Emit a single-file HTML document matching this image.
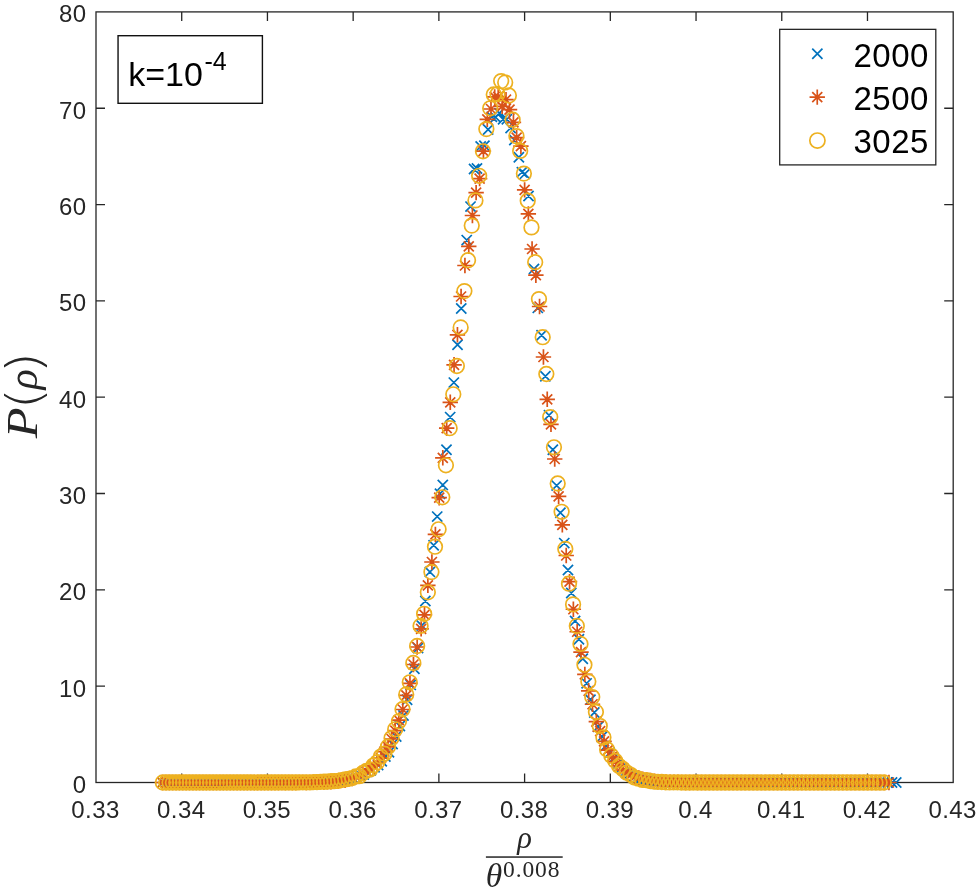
<!DOCTYPE html>
<html lang="en"><head><meta charset="utf-8"><title>P(rho) distribution</title>
<style>html,body{margin:0;padding:0;background:#fff}body{width:980px;height:893px;overflow:hidden}svg{display:block}</style></head>
<body>
<svg width="980" height="893" viewBox="0 0 980 893">
<rect width="980" height="893" fill="#fff"/>
<g stroke="#262626" stroke-width="1.3" fill="none">
<rect x="96" y="11.9" width="857.2" height="770.6"/>
<path d="M181.72 782.5v-9M181.72 11.9v9M267.44 782.5v-9M267.44 11.9v9M353.16 782.5v-9M353.16 11.9v9M438.88 782.5v-9M438.88 11.9v9M524.6 782.5v-9M524.6 11.9v9M610.32 782.5v-9M610.32 11.9v9M696.04 782.5v-9M696.04 11.9v9M781.76 782.5v-9M781.76 11.9v9M867.48 782.5v-9M867.48 11.9v9M96 686.17h9M953.2 686.17h-9M96 589.85h9M953.2 589.85h-9M96 493.52h9M953.2 493.52h-9M96 397.2h9M953.2 397.2h-9M96 300.88h9M953.2 300.88h-9M96 204.55h9M953.2 204.55h-9M96 108.23h9M953.2 108.23h-9"/>
</g>
<g font-family="'Liberation Sans', Arial, Helvetica, sans-serif" font-size="24" letter-spacing="0.4" fill="#262626">
<text x="95.5" y="818.2" text-anchor="middle">0.33</text>
<text x="181.22" y="818.2" text-anchor="middle">0.34</text>
<text x="266.94" y="818.2" text-anchor="middle">0.35</text>
<text x="352.66" y="818.2" text-anchor="middle">0.36</text>
<text x="438.38" y="818.2" text-anchor="middle">0.37</text>
<text x="524.1" y="818.2" text-anchor="middle">0.38</text>
<text x="609.82" y="818.2" text-anchor="middle">0.39</text>
<text x="695.54" y="818.2" text-anchor="middle">0.4</text>
<text x="781.26" y="818.2" text-anchor="middle">0.41</text>
<text x="866.98" y="818.2" text-anchor="middle">0.42</text>
<text x="952.7" y="818.2" text-anchor="middle">0.43</text>
<text x="86.6" y="792.9" text-anchor="end">0</text>
<text x="86.6" y="696.57" text-anchor="end">10</text>
<text x="86.6" y="600.25" text-anchor="end">20</text>
<text x="86.6" y="503.92" text-anchor="end">30</text>
<text x="86.6" y="407.6" text-anchor="end">40</text>
<text x="86.6" y="311.27" text-anchor="end">50</text>
<text x="86.6" y="214.95" text-anchor="end">60</text>
<text x="86.6" y="118.63" text-anchor="end">70</text>
<text x="86.6" y="22.3" text-anchor="end">80</text>
</g>
<g fill="none" stroke-width="1.7">
<path stroke="#0072BD" d="M157.48 777.4l10.2 10.2m0 -10.2l-10.2 10.2M160.83 777.4l10.2 10.2m0 -10.2l-10.2 10.2M164.19 777.4l10.2 10.2m0 -10.2l-10.2 10.2M167.56 777.4l10.2 10.2m0 -10.2l-10.2 10.2M170.92 777.4l10.2 10.2m0 -10.2l-10.2 10.2M174.29 777.4l10.2 10.2m0 -10.2l-10.2 10.2M177.67 777.4l10.2 10.2m0 -10.2l-10.2 10.2M181.05 777.4l10.2 10.2m0 -10.2l-10.2 10.2M184.43 777.4l10.2 10.2m0 -10.2l-10.2 10.2M187.82 777.4l10.2 10.2m0 -10.2l-10.2 10.2M191.21 777.4l10.2 10.2m0 -10.2l-10.2 10.2M194.6 777.4l10.2 10.2m0 -10.2l-10.2 10.2M198 777.4l10.2 10.2m0 -10.2l-10.2 10.2M201.4 777.4l10.2 10.2m0 -10.2l-10.2 10.2M204.81 777.4l10.2 10.2m0 -10.2l-10.2 10.2M208.22 777.4l10.2 10.2m0 -10.2l-10.2 10.2M211.63 777.4l10.2 10.2m0 -10.2l-10.2 10.2M215.05 777.4l10.2 10.2m0 -10.2l-10.2 10.2M218.47 777.4l10.2 10.2m0 -10.2l-10.2 10.2M221.9 777.4l10.2 10.2m0 -10.2l-10.2 10.2M225.33 777.4l10.2 10.2m0 -10.2l-10.2 10.2M228.76 777.4l10.2 10.2m0 -10.2l-10.2 10.2M232.2 777.4l10.2 10.2m0 -10.2l-10.2 10.2M235.65 777.4l10.2 10.2m0 -10.2l-10.2 10.2M239.09 777.4l10.2 10.2m0 -10.2l-10.2 10.2M242.54 777.4l10.2 10.2m0 -10.2l-10.2 10.2M245.99 777.4l10.2 10.2m0 -10.2l-10.2 10.2M249.45 777.4l10.2 10.2m0 -10.2l-10.2 10.2M252.91 777.4l10.2 10.2m0 -10.2l-10.2 10.2M256.38 777.39l10.2 10.2m0 -10.2l-10.2 10.2M259.85 777.37l10.2 10.2m0 -10.2l-10.2 10.2M263.33 777.39l10.2 10.2m0 -10.2l-10.2 10.2M266.8 777.4l10.2 10.2m0 -10.2l-10.2 10.2M270.29 777.37l10.2 10.2m0 -10.2l-10.2 10.2M273.77 777.35l10.2 10.2m0 -10.2l-10.2 10.2M277.26 777.37l10.2 10.2m0 -10.2l-10.2 10.2M280.76 777.33l10.2 10.2m0 -10.2l-10.2 10.2M284.25 777.29l10.2 10.2m0 -10.2l-10.2 10.2M287.76 777.32l10.2 10.2m0 -10.2l-10.2 10.2M291.26 777.33l10.2 10.2m0 -10.2l-10.2 10.2M294.77 777.23l10.2 10.2m0 -10.2l-10.2 10.2M298.29 777.19l10.2 10.2m0 -10.2l-10.2 10.2M301.81 777.07l10.2 10.2m0 -10.2l-10.2 10.2M305.33 777.2l10.2 10.2m0 -10.2l-10.2 10.2M308.86 777.07l10.2 10.2m0 -10.2l-10.2 10.2M312.39 776.98l10.2 10.2m0 -10.2l-10.2 10.2M315.92 776.97l10.2 10.2m0 -10.2l-10.2 10.2M319.46 776.56l10.2 10.2m0 -10.2l-10.2 10.2M323 776.27l10.2 10.2m0 -10.2l-10.2 10.2M326.55 776.21l10.2 10.2m0 -10.2l-10.2 10.2M330.1 775.46l10.2 10.2m0 -10.2l-10.2 10.2M333.66 775.13l10.2 10.2m0 -10.2l-10.2 10.2M337.22 774.64l10.2 10.2m0 -10.2l-10.2 10.2M340.78 774.05l10.2 10.2m0 -10.2l-10.2 10.2M344.35 773.11l10.2 10.2m0 -10.2l-10.2 10.2M347.92 772.95l10.2 10.2m0 -10.2l-10.2 10.2M351.5 771.18l10.2 10.2m0 -10.2l-10.2 10.2M355.08 769.9l10.2 10.2m0 -10.2l-10.2 10.2M358.66 769.49l10.2 10.2m0 -10.2l-10.2 10.2M362.25 766.79l10.2 10.2m0 -10.2l-10.2 10.2M365.84 765.09l10.2 10.2m0 -10.2l-10.2 10.2M369.44 762.09l10.2 10.2m0 -10.2l-10.2 10.2M373.04 759.96l10.2 10.2m0 -10.2l-10.2 10.2M376.65 756.15l10.2 10.2m0 -10.2l-10.2 10.2M380.26 751.49l10.2 10.2m0 -10.2l-10.2 10.2M383.87 747.08l10.2 10.2m0 -10.2l-10.2 10.2M387.49 739.01l10.2 10.2m0 -10.2l-10.2 10.2M391.11 731.47l10.2 10.2m0 -10.2l-10.2 10.2M394.74 720.88l10.2 10.2m0 -10.2l-10.2 10.2M398.37 710.42l10.2 10.2m0 -10.2l-10.2 10.2M402 694.67l10.2 10.2m0 -10.2l-10.2 10.2M405.64 679.79l10.2 10.2m0 -10.2l-10.2 10.2M409.28 663.61l10.2 10.2m0 -10.2l-10.2 10.2M412.93 642.87l10.2 10.2m0 -10.2l-10.2 10.2M416.58 620.34l10.2 10.2m0 -10.2l-10.2 10.2M420.24 595.91l10.2 10.2m0 -10.2l-10.2 10.2M424.8 566.8l10.2 10.2m0 -10.2l-10.2 10.2M428.53 540.2l10.2 10.2m0 -10.2l-10.2 10.2M432.11 511.5l10.2 10.2m0 -10.2l-10.2 10.2M434.9 488.64l10.2 10.2m0 -10.2l-10.2 10.2M437.69 479.8l10.2 10.2m0 -10.2l-10.2 10.2M441.38 444.7l10.2 10.2m0 -10.2l-10.2 10.2M445.07 412l10.2 10.2m0 -10.2l-10.2 10.2M448.75 377.5l10.2 10.2m0 -10.2l-10.2 10.2M452.41 339.7l10.2 10.2m0 -10.2l-10.2 10.2M456.16 303.4l10.2 10.2m0 -10.2l-10.2 10.2M461.61 235l10.2 10.2m0 -10.2l-10.2 10.2M465.42 201.5l10.2 10.2m0 -10.2l-10.2 10.2M468.97 163.9l10.2 10.2m0 -10.2l-10.2 10.2M471.86 163.41l10.2 10.2m0 -10.2l-10.2 10.2M475.58 141.3l10.2 10.2m0 -10.2l-10.2 10.2M479.31 140.55l10.2 10.2m0 -10.2l-10.2 10.2M483.03 124.39l10.2 10.2m0 -10.2l-10.2 10.2M486.77 111.75l10.2 10.2m0 -10.2l-10.2 10.2M490.5 112.27l10.2 10.2m0 -10.2l-10.2 10.2M494.25 108l10.2 10.2m0 -10.2l-10.2 10.2M497.99 114.11l10.2 10.2m0 -10.2l-10.2 10.2M501.74 114.19l10.2 10.2m0 -10.2l-10.2 10.2M505.5 122.95l10.2 10.2m0 -10.2l-10.2 10.2M509.25 134.83l10.2 10.2m0 -10.2l-10.2 10.2M513.76 152.1l10.2 10.2m0 -10.2l-10.2 10.2M516.79 167.07l10.2 10.2m0 -10.2l-10.2 10.2M519.68 168.8l10.2 10.2m0 -10.2l-10.2 10.2M523.42 190.9l10.2 10.2m0 -10.2l-10.2 10.2M528.86 263.8l10.2 10.2m0 -10.2l-10.2 10.2M532.7 302.8l10.2 10.2m0 -10.2l-10.2 10.2M536.44 330.1l10.2 10.2m0 -10.2l-10.2 10.2M540.29 371.1l10.2 10.2m0 -10.2l-10.2 10.2M543.89 410.2l10.2 10.2m0 -10.2l-10.2 10.2M547.74 444.7l10.2 10.2m0 -10.2l-10.2 10.2M551.54 480.5l10.2 10.2m0 -10.2l-10.2 10.2M555.3 507.7l10.2 10.2m0 -10.2l-10.2 10.2M559.16 538l10.2 10.2m0 -10.2l-10.2 10.2M562.87 564.9l10.2 10.2m0 -10.2l-10.2 10.2M566.16 587.84l10.2 10.2m0 -10.2l-10.2 10.2M569.99 615.82l10.2 10.2m0 -10.2l-10.2 10.2M573.82 634.22l10.2 10.2m0 -10.2l-10.2 10.2M577.66 653.63l10.2 10.2m0 -10.2l-10.2 10.2M581.5 678.23l10.2 10.2m0 -10.2l-10.2 10.2M585.35 694.55l10.2 10.2m0 -10.2l-10.2 10.2M589.2 707.37l10.2 10.2m0 -10.2l-10.2 10.2M593.06 721.61l10.2 10.2m0 -10.2l-10.2 10.2M596.92 731.57l10.2 10.2m0 -10.2l-10.2 10.2M600.78 740.59l10.2 10.2m0 -10.2l-10.2 10.2M604.65 747.58l10.2 10.2m0 -10.2l-10.2 10.2M608.53 753.11l10.2 10.2m0 -10.2l-10.2 10.2M612.4 758.98l10.2 10.2m0 -10.2l-10.2 10.2M616.29 762.55l10.2 10.2m0 -10.2l-10.2 10.2M620.17 766.58l10.2 10.2m0 -10.2l-10.2 10.2M624.07 768.82l10.2 10.2m0 -10.2l-10.2 10.2M627.96 771.86l10.2 10.2m0 -10.2l-10.2 10.2M631.86 773.1l10.2 10.2m0 -10.2l-10.2 10.2M635.77 773.6l10.2 10.2m0 -10.2l-10.2 10.2M639.68 774.92l10.2 10.2m0 -10.2l-10.2 10.2M643.59 775.36l10.2 10.2m0 -10.2l-10.2 10.2M647.51 775.91l10.2 10.2m0 -10.2l-10.2 10.2M651.43 776.2l10.2 10.2m0 -10.2l-10.2 10.2M655.36 776.58l10.2 10.2m0 -10.2l-10.2 10.2M659.29 776.79l10.2 10.2m0 -10.2l-10.2 10.2M663.23 777.06l10.2 10.2m0 -10.2l-10.2 10.2M667.17 777.21l10.2 10.2m0 -10.2l-10.2 10.2M671.12 777.28l10.2 10.2m0 -10.2l-10.2 10.2M675.07 777.31l10.2 10.2m0 -10.2l-10.2 10.2M679.02 777.37l10.2 10.2m0 -10.2l-10.2 10.2M682.98 777.37l10.2 10.2m0 -10.2l-10.2 10.2M686.95 777.37l10.2 10.2m0 -10.2l-10.2 10.2M690.92 777.37l10.2 10.2m0 -10.2l-10.2 10.2M694.89 777.39l10.2 10.2m0 -10.2l-10.2 10.2M698.87 777.4l10.2 10.2m0 -10.2l-10.2 10.2M702.85 777.39l10.2 10.2m0 -10.2l-10.2 10.2M706.84 777.39l10.2 10.2m0 -10.2l-10.2 10.2M710.83 777.39l10.2 10.2m0 -10.2l-10.2 10.2M714.83 777.4l10.2 10.2m0 -10.2l-10.2 10.2M718.83 777.4l10.2 10.2m0 -10.2l-10.2 10.2M722.84 777.4l10.2 10.2m0 -10.2l-10.2 10.2M726.85 777.39l10.2 10.2m0 -10.2l-10.2 10.2M730.86 777.4l10.2 10.2m0 -10.2l-10.2 10.2M734.88 777.4l10.2 10.2m0 -10.2l-10.2 10.2M738.91 777.4l10.2 10.2m0 -10.2l-10.2 10.2M742.93 777.4l10.2 10.2m0 -10.2l-10.2 10.2M746.97 777.4l10.2 10.2m0 -10.2l-10.2 10.2M751.01 777.4l10.2 10.2m0 -10.2l-10.2 10.2M755.05 777.4l10.2 10.2m0 -10.2l-10.2 10.2M759.1 777.4l10.2 10.2m0 -10.2l-10.2 10.2M763.15 777.4l10.2 10.2m0 -10.2l-10.2 10.2M767.21 777.4l10.2 10.2m0 -10.2l-10.2 10.2M771.27 777.4l10.2 10.2m0 -10.2l-10.2 10.2M775.34 777.4l10.2 10.2m0 -10.2l-10.2 10.2M779.41 777.4l10.2 10.2m0 -10.2l-10.2 10.2M783.48 777.4l10.2 10.2m0 -10.2l-10.2 10.2M787.57 777.4l10.2 10.2m0 -10.2l-10.2 10.2M791.65 777.4l10.2 10.2m0 -10.2l-10.2 10.2M795.74 777.4l10.2 10.2m0 -10.2l-10.2 10.2M799.84 777.4l10.2 10.2m0 -10.2l-10.2 10.2M803.94 777.4l10.2 10.2m0 -10.2l-10.2 10.2M808.04 777.4l10.2 10.2m0 -10.2l-10.2 10.2M812.15 777.4l10.2 10.2m0 -10.2l-10.2 10.2M816.26 777.4l10.2 10.2m0 -10.2l-10.2 10.2M820.38 777.4l10.2 10.2m0 -10.2l-10.2 10.2M824.51 777.4l10.2 10.2m0 -10.2l-10.2 10.2M828.64 777.4l10.2 10.2m0 -10.2l-10.2 10.2M832.77 777.4l10.2 10.2m0 -10.2l-10.2 10.2M836.91 777.4l10.2 10.2m0 -10.2l-10.2 10.2M841.05 777.4l10.2 10.2m0 -10.2l-10.2 10.2M845.2 777.4l10.2 10.2m0 -10.2l-10.2 10.2M849.35 777.4l10.2 10.2m0 -10.2l-10.2 10.2M853.51 777.4l10.2 10.2m0 -10.2l-10.2 10.2M857.67 777.4l10.2 10.2m0 -10.2l-10.2 10.2M861.84 777.4l10.2 10.2m0 -10.2l-10.2 10.2M866.01 777.4l10.2 10.2m0 -10.2l-10.2 10.2M870.18 777.4l10.2 10.2m0 -10.2l-10.2 10.2M874.37 777.4l10.2 10.2m0 -10.2l-10.2 10.2M878.55 777.4l10.2 10.2m0 -10.2l-10.2 10.2M882.74 777.4l10.2 10.2m0 -10.2l-10.2 10.2M886.94 777.4l10.2 10.2m0 -10.2l-10.2 10.2M891.14 777.4l10.2 10.2m0 -10.2l-10.2 10.2"/>
<path stroke="#D95319" d="M154.78 782.5h15.4M162.48 774.8v15.4M157.48 777.5l10 10m0 -10l-10 10M158.12 782.5h15.4M165.82 774.8v15.4M160.82 777.5l10 10m0 -10l-10 10M161.47 782.5h15.4M169.17 774.8v15.4M164.17 777.5l10 10m0 -10l-10 10M164.82 782.5h15.4M172.52 774.8v15.4M167.52 777.5l10 10m0 -10l-10 10M168.17 782.5h15.4M175.87 774.8v15.4M170.87 777.5l10 10m0 -10l-10 10M171.53 782.5h15.4M179.23 774.8v15.4M174.23 777.5l10 10m0 -10l-10 10M174.89 782.5h15.4M182.59 774.8v15.4M177.59 777.5l10 10m0 -10l-10 10M178.26 782.5h15.4M185.96 774.8v15.4M180.96 777.5l10 10m0 -10l-10 10M181.63 782.5h15.4M189.33 774.8v15.4M184.33 777.5l10 10m0 -10l-10 10M185 782.5h15.4M192.7 774.8v15.4M187.7 777.5l10 10m0 -10l-10 10M188.38 782.5h15.4M196.08 774.8v15.4M191.08 777.5l10 10m0 -10l-10 10M191.76 782.5h15.4M199.46 774.8v15.4M194.46 777.5l10 10m0 -10l-10 10M195.15 782.5h15.4M202.85 774.8v15.4M197.85 777.5l10 10m0 -10l-10 10M198.54 782.5h15.4M206.24 774.8v15.4M201.24 777.5l10 10m0 -10l-10 10M201.93 782.5h15.4M209.63 774.8v15.4M204.63 777.5l10 10m0 -10l-10 10M205.33 782.5h15.4M213.03 774.8v15.4M208.03 777.5l10 10m0 -10l-10 10M208.73 782.5h15.4M216.43 774.8v15.4M211.43 777.5l10 10m0 -10l-10 10M212.14 782.5h15.4M219.84 774.8v15.4M214.84 777.5l10 10m0 -10l-10 10M215.54 782.5h15.4M223.24 774.8v15.4M218.24 777.5l10 10m0 -10l-10 10M218.96 782.5h15.4M226.66 774.8v15.4M221.66 777.5l10 10m0 -10l-10 10M222.37 782.5h15.4M230.07 774.8v15.4M225.07 777.5l10 10m0 -10l-10 10M225.8 782.5h15.4M233.5 774.8v15.4M228.5 777.5l10 10m0 -10l-10 10M229.22 782.5h15.4M236.92 774.8v15.4M231.92 777.5l10 10m0 -10l-10 10M232.65 782.5h15.4M240.35 774.8v15.4M235.35 777.5l10 10m0 -10l-10 10M236.08 782.5h15.4M243.78 774.8v15.4M238.78 777.5l10 10m0 -10l-10 10M239.52 782.5h15.4M247.22 774.8v15.4M242.22 777.5l10 10m0 -10l-10 10M242.96 782.5h15.4M250.66 774.8v15.4M245.66 777.5l10 10m0 -10l-10 10M246.41 782.5h15.4M254.11 774.8v15.4M249.11 777.5l10 10m0 -10l-10 10M249.85 782.5h15.4M257.55 774.8v15.4M252.55 777.5l10 10m0 -10l-10 10M253.31 782.5h15.4M261.01 774.8v15.4M256.01 777.5l10 10m0 -10l-10 10M256.76 782.5h15.4M264.46 774.8v15.4M259.46 777.5l10 10m0 -10l-10 10M260.22 782.5h15.4M267.92 774.8v15.4M262.92 777.5l10 10m0 -10l-10 10M263.69 782.5h15.4M271.39 774.8v15.4M266.39 777.5l10 10m0 -10l-10 10M267.16 782.5h15.4M274.86 774.8v15.4M269.86 777.5l10 10m0 -10l-10 10M270.63 782.5h15.4M278.33 774.8v15.4M273.33 777.5l10 10m0 -10l-10 10M274.11 782.5h15.4M281.81 774.8v15.4M276.81 777.5l10 10m0 -10l-10 10M277.59 782.5h15.4M285.29 774.8v15.4M280.29 777.5l10 10m0 -10l-10 10M281.07 782.5h15.4M288.77 774.8v15.4M283.77 777.5l10 10m0 -10l-10 10M284.56 782.46h15.4M292.26 774.76v15.4M287.26 777.46l10 10m0 -10l-10 10M288.06 782.49h15.4M295.76 774.79v15.4M290.76 777.49l10 10m0 -10l-10 10M291.55 782.4h15.4M299.25 774.7v15.4M294.25 777.4l10 10m0 -10l-10 10M295.05 782.39h15.4M302.75 774.69v15.4M297.75 777.39l10 10m0 -10l-10 10M298.56 782.49h15.4M306.26 774.79v15.4M301.26 777.49l10 10m0 -10l-10 10M302.07 782.34h15.4M309.77 774.64v15.4M304.77 777.34l10 10m0 -10l-10 10M305.58 782.38h15.4M313.28 774.68v15.4M308.28 777.38l10 10m0 -10l-10 10M309.1 782.23h15.4M316.8 774.53v15.4M311.8 777.23l10 10m0 -10l-10 10M312.62 782.13h15.4M320.32 774.43v15.4M315.32 777.13l10 10m0 -10l-10 10M316.14 782.23h15.4M323.84 774.53v15.4M318.84 777.23l10 10m0 -10l-10 10M319.67 781.88h15.4M327.37 774.18v15.4M322.37 776.88l10 10m0 -10l-10 10M323.21 781.68h15.4M330.91 773.98v15.4M325.91 776.68l10 10m0 -10l-10 10M326.74 781.21h15.4M334.44 773.51v15.4M329.44 776.21l10 10m0 -10l-10 10M330.29 781.24h15.4M337.99 773.54v15.4M332.99 776.24l10 10m0 -10l-10 10M333.83 780.42h15.4M341.53 772.72v15.4M336.53 775.42l10 10m0 -10l-10 10M337.38 780.27h15.4M345.08 772.57v15.4M340.08 775.27l10 10m0 -10l-10 10M340.94 779.38h15.4M348.64 771.68v15.4M343.64 774.38l10 10m0 -10l-10 10M344.49 778.65h15.4M352.19 770.95v15.4M347.19 773.65l10 10m0 -10l-10 10M348.06 776.74h15.4M355.76 769.04v15.4M350.76 771.74l10 10m0 -10l-10 10M351.62 775.62h15.4M359.32 767.92v15.4M354.32 770.62l10 10m0 -10l-10 10M355.19 773.03h15.4M362.89 765.33v15.4M357.89 768.03l10 10m0 -10l-10 10M358.77 771.68h15.4M366.47 763.98v15.4M361.47 766.68l10 10m0 -10l-10 10M362.35 768.95h15.4M370.05 761.25v15.4M365.05 763.95l10 10m0 -10l-10 10M365.93 765.78h15.4M373.63 758.08v15.4M368.63 760.78l10 10m0 -10l-10 10M369.51 762.98h15.4M377.21 755.28v15.4M372.21 757.98l10 10m0 -10l-10 10M373.11 758.13h15.4M380.81 750.43v15.4M375.81 753.13l10 10m0 -10l-10 10M376.7 751.63h15.4M384.4 743.93v15.4M379.4 746.63l10 10m0 -10l-10 10M380.3 746.88h15.4M388 739.18v15.4M383 741.88l10 10m0 -10l-10 10M383.9 739h15.4M391.6 731.3v15.4M386.6 734l10 10m0 -10l-10 10M387.51 730.7h15.4M395.21 723v15.4M390.21 725.7l10 10m0 -10l-10 10M391.12 720.12h15.4M398.82 712.42v15.4M393.82 715.12l10 10m0 -10l-10 10M395.07 709.5h15.4M402.77 701.8v15.4M397.77 704.5l10 10m0 -10l-10 10M398.58 695.4h15.4M406.28 687.7v15.4M401.28 690.4l10 10m0 -10l-10 10M402.24 683.3h15.4M409.94 675.6v15.4M404.94 678.3l10 10m0 -10l-10 10M405.76 664.5h15.4M413.46 656.8v15.4M408.46 659.5l10 10m0 -10l-10 10M409.47 647h15.4M417.17 639.3v15.4M412.17 642l10 10m0 -10l-10 10M413.44 628.9h15.4M421.14 621.2v15.4M416.14 623.9l10 10m0 -10l-10 10M416.81 614.8h15.4M424.51 607.1v15.4M419.51 609.8l10 10m0 -10l-10 10M420.17 585.42h15.4M427.87 577.72v15.4M422.87 580.42l10 10m0 -10l-10 10M424.21 562h15.4M431.91 554.3v15.4M426.91 557l10 10m0 -10l-10 10M427.69 534.4h15.4M435.39 526.7v15.4M430.39 529.4l10 10m0 -10l-10 10M431.51 497.7h15.4M439.21 490v15.4M434.21 492.7l10 10m0 -10l-10 10M435.1 457.8h15.4M442.8 450.1v15.4M437.8 452.8l10 10m0 -10l-10 10M438.98 428.2h15.4M446.68 420.5v15.4M441.68 423.2l10 10m0 -10l-10 10M442.56 402.3h15.4M450.26 394.6v15.4M445.26 397.3l10 10m0 -10l-10 10M446.35 364.8h15.4M454.05 357.1v15.4M449.05 359.8l10 10m0 -10l-10 10M449.74 334.8h15.4M457.44 327.1v15.4M452.44 329.8l10 10m0 -10l-10 10M453.38 296.5h15.4M461.08 288.8v15.4M456.08 291.5l10 10m0 -10l-10 10M457.23 265.5h15.4M464.93 257.8v15.4M459.93 260.5l10 10m0 -10l-10 10M461.07 246.3h15.4M468.77 238.6v15.4M463.77 241.3l10 10m0 -10l-10 10M464.72 215.5h15.4M472.42 207.8v15.4M467.42 210.5l10 10m0 -10l-10 10M468.42 192.6h15.4M476.12 184.9v15.4M471.12 187.6l10 10m0 -10l-10 10M471.92 178.6h15.4M479.62 170.9v15.4M474.62 173.6l10 10m0 -10l-10 10M475.73 151.1h15.4M483.43 143.4v15.4M478.43 146.1l10 10m0 -10l-10 10M479.58 119.4h15.4M487.28 111.7v15.4M482.28 114.4l10 10m0 -10l-10 10M483.29 109h15.4M490.99 101.3v15.4M485.99 104l10 10m0 -10l-10 10M487 96.9h15.4M494.7 89.2v15.4M489.7 91.9l10 10m0 -10l-10 10M490.52 96.9h15.4M498.22 89.2v15.4M493.22 91.9l10 10m0 -10l-10 10M494.43 106.3h15.4M502.13 98.6v15.4M497.13 101.3l10 10m0 -10l-10 10M498.3 99.6h15.4M506 91.9v15.4M501 94.6l10 10m0 -10l-10 10M501.82 109.7h15.4M509.52 102v15.4M504.52 104.7l10 10m0 -10l-10 10M505.74 122.4h15.4M513.44 114.7v15.4M508.44 117.4l10 10m0 -10l-10 10M508.93 137.71h15.4M516.63 130.01v15.4M511.63 132.71l10 10m0 -10l-10 10M513.19 146.2h15.4M520.89 138.5v15.4M515.89 141.2l10 10m0 -10l-10 10M516.92 189.9h15.4M524.62 182.2v15.4M519.62 184.9l10 10m0 -10l-10 10M520.65 213.9h15.4M528.35 206.2v15.4M523.35 208.9l10 10m0 -10l-10 10M524.38 249h15.4M532.08 241.3v15.4M527.08 244l10 10m0 -10l-10 10M528.17 275.2h15.4M535.87 267.5v15.4M530.87 270.2l10 10m0 -10l-10 10M531.85 306.5h15.4M539.55 298.8v15.4M534.55 301.5l10 10m0 -10l-10 10M535.74 357h15.4M543.44 349.3v15.4M538.44 352l10 10m0 -10l-10 10M539.53 399.3h15.4M547.23 391.6v15.4M542.23 394.3l10 10m0 -10l-10 10M543.28 424.3h15.4M550.98 416.6v15.4M545.98 419.3l10 10m0 -10l-10 10M547.02 459h15.4M554.72 451.3v15.4M549.72 454l10 10m0 -10l-10 10M550.92 496.3h15.4M558.62 488.6v15.4M553.62 491.3l10 10m0 -10l-10 10M554.62 524.9h15.4M562.32 517.2v15.4M557.32 519.9l10 10m0 -10l-10 10M558.52 555.5h15.4M566.22 547.8v15.4M561.22 550.5l10 10m0 -10l-10 10M561.85 581.68h15.4M569.55 573.98v15.4M564.55 576.68l10 10m0 -10l-10 10M565.66 609.27h15.4M573.36 601.57v15.4M568.36 604.27l10 10m0 -10l-10 10M569.48 631.74h15.4M577.18 624.04v15.4M572.18 626.74l10 10m0 -10l-10 10M573.3 652.17h15.4M581 644.47v15.4M576 647.17l10 10m0 -10l-10 10M577.13 674.42h15.4M584.83 666.72v15.4M579.83 669.42l10 10m0 -10l-10 10M580.96 690.81h15.4M588.66 683.11v15.4M583.66 685.81l10 10m0 -10l-10 10M584.8 704.25h15.4M592.5 696.55v15.4M587.5 699.25l10 10m0 -10l-10 10M588.64 721.56h15.4M596.34 713.86v15.4M591.34 716.56l10 10m0 -10l-10 10M592.48 731.17h15.4M600.18 723.47v15.4M595.18 726.17l10 10m0 -10l-10 10M596.33 741.43h15.4M604.03 733.73v15.4M599.03 736.43l10 10m0 -10l-10 10M600.18 750.19h15.4M607.88 742.49v15.4M602.88 745.19l10 10m0 -10l-10 10M604.04 756.81h15.4M611.74 749.11v15.4M606.74 751.81l10 10m0 -10l-10 10M607.9 761.57h15.4M615.6 753.87v15.4M610.6 756.57l10 10m0 -10l-10 10M611.77 765.82h15.4M619.47 758.12v15.4M614.47 760.82l10 10m0 -10l-10 10M615.64 770.06h15.4M623.34 762.36v15.4M618.34 765.06l10 10m0 -10l-10 10M619.51 772.67h15.4M627.21 764.97v15.4M622.21 767.67l10 10m0 -10l-10 10M623.39 774.71h15.4M631.09 767.01v15.4M626.09 769.71l10 10m0 -10l-10 10M627.28 776.73h15.4M634.98 769.03v15.4M629.98 771.73l10 10m0 -10l-10 10M631.16 777.98h15.4M638.86 770.28v15.4M633.86 772.98l10 10m0 -10l-10 10M635.06 779.22h15.4M642.76 771.52v15.4M637.76 774.22l10 10m0 -10l-10 10M638.95 780.06h15.4M646.65 772.36v15.4M641.65 775.06l10 10m0 -10l-10 10M642.86 780.44h15.4M650.56 772.74v15.4M645.56 775.44l10 10m0 -10l-10 10M646.76 781.17h15.4M654.46 773.47v15.4M649.46 776.17l10 10m0 -10l-10 10M650.67 781.6h15.4M658.37 773.9v15.4M653.37 776.6l10 10m0 -10l-10 10M654.59 781.79h15.4M662.29 774.09v15.4M657.29 776.79l10 10m0 -10l-10 10M658.51 782.16h15.4M666.21 774.46v15.4M661.21 777.16l10 10m0 -10l-10 10M662.44 782.22h15.4M670.14 774.52v15.4M665.14 777.22l10 10m0 -10l-10 10M666.36 782.23h15.4M674.06 774.53v15.4M669.06 777.23l10 10m0 -10l-10 10M670.3 782.32h15.4M678 774.62v15.4M673 777.32l10 10m0 -10l-10 10M674.24 782.33h15.4M681.94 774.63v15.4M676.94 777.33l10 10m0 -10l-10 10M678.18 782.43h15.4M685.88 774.73v15.4M680.88 777.43l10 10m0 -10l-10 10M682.13 782.5h15.4M689.83 774.8v15.4M684.83 777.5l10 10m0 -10l-10 10M686.08 782.42h15.4M693.78 774.72v15.4M688.78 777.42l10 10m0 -10l-10 10M690.04 782.46h15.4M697.74 774.76v15.4M692.74 777.46l10 10m0 -10l-10 10M694 782.5h15.4M701.7 774.8v15.4M696.7 777.5l10 10m0 -10l-10 10M697.96 782.47h15.4M705.66 774.77v15.4M700.66 777.47l10 10m0 -10l-10 10M701.93 782.49h15.4M709.63 774.79v15.4M704.63 777.49l10 10m0 -10l-10 10M705.91 782.5h15.4M713.61 774.8v15.4M708.61 777.5l10 10m0 -10l-10 10M709.89 782.5h15.4M717.59 774.8v15.4M712.59 777.5l10 10m0 -10l-10 10M713.87 782.5h15.4M721.57 774.8v15.4M716.57 777.5l10 10m0 -10l-10 10M717.86 782.49h15.4M725.56 774.79v15.4M720.56 777.49l10 10m0 -10l-10 10M721.85 782.5h15.4M729.55 774.8v15.4M724.55 777.5l10 10m0 -10l-10 10M725.85 782.5h15.4M733.55 774.8v15.4M728.55 777.5l10 10m0 -10l-10 10M729.85 782.5h15.4M737.55 774.8v15.4M732.55 777.5l10 10m0 -10l-10 10M733.86 782.5h15.4M741.56 774.8v15.4M736.56 777.5l10 10m0 -10l-10 10M737.87 782.5h15.4M745.57 774.8v15.4M740.57 777.5l10 10m0 -10l-10 10M741.89 782.5h15.4M749.59 774.8v15.4M744.59 777.5l10 10m0 -10l-10 10M745.91 782.5h15.4M753.61 774.8v15.4M748.61 777.5l10 10m0 -10l-10 10M749.93 782.5h15.4M757.63 774.8v15.4M752.63 777.5l10 10m0 -10l-10 10M753.96 782.5h15.4M761.66 774.8v15.4M756.66 777.5l10 10m0 -10l-10 10M758 782.5h15.4M765.7 774.8v15.4M760.7 777.5l10 10m0 -10l-10 10M762.04 782.5h15.4M769.74 774.8v15.4M764.74 777.5l10 10m0 -10l-10 10M766.08 782.5h15.4M773.78 774.8v15.4M768.78 777.5l10 10m0 -10l-10 10M770.13 782.5h15.4M777.83 774.8v15.4M772.83 777.5l10 10m0 -10l-10 10M774.19 782.5h15.4M781.89 774.8v15.4M776.89 777.5l10 10m0 -10l-10 10M778.24 782.5h15.4M785.94 774.8v15.4M780.94 777.5l10 10m0 -10l-10 10M782.31 782.5h15.4M790.01 774.8v15.4M785.01 777.5l10 10m0 -10l-10 10M786.37 782.5h15.4M794.07 774.8v15.4M789.07 777.5l10 10m0 -10l-10 10M790.45 782.5h15.4M798.15 774.8v15.4M793.15 777.5l10 10m0 -10l-10 10M794.52 782.5h15.4M802.22 774.8v15.4M797.22 777.5l10 10m0 -10l-10 10M798.61 782.5h15.4M806.31 774.8v15.4M801.31 777.5l10 10m0 -10l-10 10M802.69 782.5h15.4M810.39 774.8v15.4M805.39 777.5l10 10m0 -10l-10 10M806.78 782.5h15.4M814.48 774.8v15.4M809.48 777.5l10 10m0 -10l-10 10M810.88 782.5h15.4M818.58 774.8v15.4M813.58 777.5l10 10m0 -10l-10 10M814.98 782.5h15.4M822.68 774.8v15.4M817.68 777.5l10 10m0 -10l-10 10M819.08 782.5h15.4M826.78 774.8v15.4M821.78 777.5l10 10m0 -10l-10 10M823.19 782.5h15.4M830.89 774.8v15.4M825.89 777.5l10 10m0 -10l-10 10M827.31 782.5h15.4M835.01 774.8v15.4M830.01 777.5l10 10m0 -10l-10 10M831.43 782.5h15.4M839.13 774.8v15.4M834.13 777.5l10 10m0 -10l-10 10M835.55 782.5h15.4M843.25 774.8v15.4M838.25 777.5l10 10m0 -10l-10 10M839.68 782.5h15.4M847.38 774.8v15.4M842.38 777.5l10 10m0 -10l-10 10M843.82 782.5h15.4M851.52 774.8v15.4M846.52 777.5l10 10m0 -10l-10 10M847.95 782.5h15.4M855.65 774.8v15.4M850.65 777.5l10 10m0 -10l-10 10M852.1 782.5h15.4M859.8 774.8v15.4M854.8 777.5l10 10m0 -10l-10 10M856.25 782.5h15.4M863.95 774.8v15.4M858.95 777.5l10 10m0 -10l-10 10M860.4 782.5h15.4M868.1 774.8v15.4M863.1 777.5l10 10m0 -10l-10 10M864.56 782.5h15.4M872.26 774.8v15.4M867.26 777.5l10 10m0 -10l-10 10M868.72 782.5h15.4M876.42 774.8v15.4M871.42 777.5l10 10m0 -10l-10 10M872.89 782.5h15.4M880.59 774.8v15.4M875.59 777.5l10 10m0 -10l-10 10M877.06 782.5h15.4M884.76 774.8v15.4M879.76 777.5l10 10m0 -10l-10 10M881.24 782.5h15.4M888.94 774.8v15.4M883.94 777.5l10 10m0 -10l-10 10"/>
<path stroke="#EDB120" d="M155.56 782.5a7.3 7.3 0 1 0 14.6 0a7.3 7.3 0 1 0 -14.6 0M158.9 782.5a7.3 7.3 0 1 0 14.6 0a7.3 7.3 0 1 0 -14.6 0M162.24 782.5a7.3 7.3 0 1 0 14.6 0a7.3 7.3 0 1 0 -14.6 0M165.59 782.5a7.3 7.3 0 1 0 14.6 0a7.3 7.3 0 1 0 -14.6 0M168.93 782.5a7.3 7.3 0 1 0 14.6 0a7.3 7.3 0 1 0 -14.6 0M172.29 782.5a7.3 7.3 0 1 0 14.6 0a7.3 7.3 0 1 0 -14.6 0M175.64 782.5a7.3 7.3 0 1 0 14.6 0a7.3 7.3 0 1 0 -14.6 0M179 782.5a7.3 7.3 0 1 0 14.6 0a7.3 7.3 0 1 0 -14.6 0M182.37 782.5a7.3 7.3 0 1 0 14.6 0a7.3 7.3 0 1 0 -14.6 0M185.74 782.5a7.3 7.3 0 1 0 14.6 0a7.3 7.3 0 1 0 -14.6 0M189.11 782.5a7.3 7.3 0 1 0 14.6 0a7.3 7.3 0 1 0 -14.6 0M192.49 782.5a7.3 7.3 0 1 0 14.6 0a7.3 7.3 0 1 0 -14.6 0M195.87 782.5a7.3 7.3 0 1 0 14.6 0a7.3 7.3 0 1 0 -14.6 0M199.25 782.5a7.3 7.3 0 1 0 14.6 0a7.3 7.3 0 1 0 -14.6 0M202.64 782.5a7.3 7.3 0 1 0 14.6 0a7.3 7.3 0 1 0 -14.6 0M206.03 782.5a7.3 7.3 0 1 0 14.6 0a7.3 7.3 0 1 0 -14.6 0M209.42 782.5a7.3 7.3 0 1 0 14.6 0a7.3 7.3 0 1 0 -14.6 0M212.82 782.5a7.3 7.3 0 1 0 14.6 0a7.3 7.3 0 1 0 -14.6 0M216.23 782.5a7.3 7.3 0 1 0 14.6 0a7.3 7.3 0 1 0 -14.6 0M219.64 782.5a7.3 7.3 0 1 0 14.6 0a7.3 7.3 0 1 0 -14.6 0M223.05 782.5a7.3 7.3 0 1 0 14.6 0a7.3 7.3 0 1 0 -14.6 0M226.46 782.5a7.3 7.3 0 1 0 14.6 0a7.3 7.3 0 1 0 -14.6 0M229.88 782.5a7.3 7.3 0 1 0 14.6 0a7.3 7.3 0 1 0 -14.6 0M233.3 782.5a7.3 7.3 0 1 0 14.6 0a7.3 7.3 0 1 0 -14.6 0M236.73 782.5a7.3 7.3 0 1 0 14.6 0a7.3 7.3 0 1 0 -14.6 0M240.16 782.5a7.3 7.3 0 1 0 14.6 0a7.3 7.3 0 1 0 -14.6 0M243.6 782.49a7.3 7.3 0 1 0 14.6 0a7.3 7.3 0 1 0 -14.6 0M247.04 782.5a7.3 7.3 0 1 0 14.6 0a7.3 7.3 0 1 0 -14.6 0M250.48 782.5a7.3 7.3 0 1 0 14.6 0a7.3 7.3 0 1 0 -14.6 0M253.93 782.49a7.3 7.3 0 1 0 14.6 0a7.3 7.3 0 1 0 -14.6 0M257.38 782.5a7.3 7.3 0 1 0 14.6 0a7.3 7.3 0 1 0 -14.6 0M260.83 782.5a7.3 7.3 0 1 0 14.6 0a7.3 7.3 0 1 0 -14.6 0M264.29 782.48a7.3 7.3 0 1 0 14.6 0a7.3 7.3 0 1 0 -14.6 0M267.75 782.48a7.3 7.3 0 1 0 14.6 0a7.3 7.3 0 1 0 -14.6 0M271.22 782.49a7.3 7.3 0 1 0 14.6 0a7.3 7.3 0 1 0 -14.6 0M274.69 782.47a7.3 7.3 0 1 0 14.6 0a7.3 7.3 0 1 0 -14.6 0M278.17 782.5a7.3 7.3 0 1 0 14.6 0a7.3 7.3 0 1 0 -14.6 0M281.64 782.44a7.3 7.3 0 1 0 14.6 0a7.3 7.3 0 1 0 -14.6 0M285.13 782.49a7.3 7.3 0 1 0 14.6 0a7.3 7.3 0 1 0 -14.6 0M288.61 782.5a7.3 7.3 0 1 0 14.6 0a7.3 7.3 0 1 0 -14.6 0M292.1 782.4a7.3 7.3 0 1 0 14.6 0a7.3 7.3 0 1 0 -14.6 0M295.6 782.35a7.3 7.3 0 1 0 14.6 0a7.3 7.3 0 1 0 -14.6 0M299.1 782.37a7.3 7.3 0 1 0 14.6 0a7.3 7.3 0 1 0 -14.6 0M302.6 782.37a7.3 7.3 0 1 0 14.6 0a7.3 7.3 0 1 0 -14.6 0M306.11 782.22a7.3 7.3 0 1 0 14.6 0a7.3 7.3 0 1 0 -14.6 0M309.62 782.14a7.3 7.3 0 1 0 14.6 0a7.3 7.3 0 1 0 -14.6 0M313.13 781.87a7.3 7.3 0 1 0 14.6 0a7.3 7.3 0 1 0 -14.6 0M316.65 781.77a7.3 7.3 0 1 0 14.6 0a7.3 7.3 0 1 0 -14.6 0M320.18 781.64a7.3 7.3 0 1 0 14.6 0a7.3 7.3 0 1 0 -14.6 0M323.7 781.24a7.3 7.3 0 1 0 14.6 0a7.3 7.3 0 1 0 -14.6 0M327.23 781.14a7.3 7.3 0 1 0 14.6 0a7.3 7.3 0 1 0 -14.6 0M330.77 780.89a7.3 7.3 0 1 0 14.6 0a7.3 7.3 0 1 0 -14.6 0M334.31 780.05a7.3 7.3 0 1 0 14.6 0a7.3 7.3 0 1 0 -14.6 0M337.85 779.4a7.3 7.3 0 1 0 14.6 0a7.3 7.3 0 1 0 -14.6 0M341.4 778.83a7.3 7.3 0 1 0 14.6 0a7.3 7.3 0 1 0 -14.6 0M344.95 778.04a7.3 7.3 0 1 0 14.6 0a7.3 7.3 0 1 0 -14.6 0M348.51 776.48a7.3 7.3 0 1 0 14.6 0a7.3 7.3 0 1 0 -14.6 0M352.07 776.14a7.3 7.3 0 1 0 14.6 0a7.3 7.3 0 1 0 -14.6 0M355.63 772.96a7.3 7.3 0 1 0 14.6 0a7.3 7.3 0 1 0 -14.6 0M359.2 770.85a7.3 7.3 0 1 0 14.6 0a7.3 7.3 0 1 0 -14.6 0M362.77 769.43a7.3 7.3 0 1 0 14.6 0a7.3 7.3 0 1 0 -14.6 0M366.35 765.29a7.3 7.3 0 1 0 14.6 0a7.3 7.3 0 1 0 -14.6 0M369.93 762.27a7.3 7.3 0 1 0 14.6 0a7.3 7.3 0 1 0 -14.6 0M373.51 756.56a7.3 7.3 0 1 0 14.6 0a7.3 7.3 0 1 0 -14.6 0M377.1 753.69a7.3 7.3 0 1 0 14.6 0a7.3 7.3 0 1 0 -14.6 0M380.69 746.71a7.3 7.3 0 1 0 14.6 0a7.3 7.3 0 1 0 -14.6 0M384.29 738.04a7.3 7.3 0 1 0 14.6 0a7.3 7.3 0 1 0 -14.6 0M387.89 729.3a7.3 7.3 0 1 0 14.6 0a7.3 7.3 0 1 0 -14.6 0M391.65 721.3a7.3 7.3 0 1 0 14.6 0a7.3 7.3 0 1 0 -14.6 0M395.2 709.2a7.3 7.3 0 1 0 14.6 0a7.3 7.3 0 1 0 -14.6 0M398.91 694.4a7.3 7.3 0 1 0 14.6 0a7.3 7.3 0 1 0 -14.6 0M402.47 682.3a7.3 7.3 0 1 0 14.6 0a7.3 7.3 0 1 0 -14.6 0M406.03 663a7.3 7.3 0 1 0 14.6 0a7.3 7.3 0 1 0 -14.6 0M409.84 646a7.3 7.3 0 1 0 14.6 0a7.3 7.3 0 1 0 -14.6 0M413.26 625.9a7.3 7.3 0 1 0 14.6 0a7.3 7.3 0 1 0 -14.6 0M416.83 613.8a7.3 7.3 0 1 0 14.6 0a7.3 7.3 0 1 0 -14.6 0M420.54 592.3a7.3 7.3 0 1 0 14.6 0a7.3 7.3 0 1 0 -14.6 0M424.12 572.1a7.3 7.3 0 1 0 14.6 0a7.3 7.3 0 1 0 -14.6 0M427.69 546.7a7.3 7.3 0 1 0 14.6 0a7.3 7.3 0 1 0 -14.6 0M431.31 529.3a7.3 7.3 0 1 0 14.6 0a7.3 7.3 0 1 0 -14.6 0M434.99 497.3a7.3 7.3 0 1 0 14.6 0a7.3 7.3 0 1 0 -14.6 0M438.62 465.3a7.3 7.3 0 1 0 14.6 0a7.3 7.3 0 1 0 -14.6 0M442.35 428.2a7.3 7.3 0 1 0 14.6 0a7.3 7.3 0 1 0 -14.6 0M445.99 394.3a7.3 7.3 0 1 0 14.6 0a7.3 7.3 0 1 0 -14.6 0M449.55 366a7.3 7.3 0 1 0 14.6 0a7.3 7.3 0 1 0 -14.6 0M453.36 327.4a7.3 7.3 0 1 0 14.6 0a7.3 7.3 0 1 0 -14.6 0M457.1 291.1a7.3 7.3 0 1 0 14.6 0a7.3 7.3 0 1 0 -14.6 0M460.75 260.2a7.3 7.3 0 1 0 14.6 0a7.3 7.3 0 1 0 -14.6 0M464.44 225.6a7.3 7.3 0 1 0 14.6 0a7.3 7.3 0 1 0 -14.6 0M468.14 200.4a7.3 7.3 0 1 0 14.6 0a7.3 7.3 0 1 0 -14.6 0M471.84 175.8a7.3 7.3 0 1 0 14.6 0a7.3 7.3 0 1 0 -14.6 0M475.64 151.3a7.3 7.3 0 1 0 14.6 0a7.3 7.3 0 1 0 -14.6 0M479.04 129.1a7.3 7.3 0 1 0 14.6 0a7.3 7.3 0 1 0 -14.6 0M482.9 108.3a7.3 7.3 0 1 0 14.6 0a7.3 7.3 0 1 0 -14.6 0M486.45 94.5a7.3 7.3 0 1 0 14.6 0a7.3 7.3 0 1 0 -14.6 0M490.16 94.2a7.3 7.3 0 1 0 14.6 0a7.3 7.3 0 1 0 -14.6 0M493.87 81.1a7.3 7.3 0 1 0 14.6 0a7.3 7.3 0 1 0 -14.6 0M497.89 82.4a7.3 7.3 0 1 0 14.6 0a7.3 7.3 0 1 0 -14.6 0M501.6 95.5a7.3 7.3 0 1 0 14.6 0a7.3 7.3 0 1 0 -14.6 0M505.32 119.7a7.3 7.3 0 1 0 14.6 0a7.3 7.3 0 1 0 -14.6 0M509.14 136.1a7.3 7.3 0 1 0 14.6 0a7.3 7.3 0 1 0 -14.6 0M512.86 150.9a7.3 7.3 0 1 0 14.6 0a7.3 7.3 0 1 0 -14.6 0M516.59 173.6a7.3 7.3 0 1 0 14.6 0a7.3 7.3 0 1 0 -14.6 0M520.42 200.7a7.3 7.3 0 1 0 14.6 0a7.3 7.3 0 1 0 -14.6 0M524.15 227.4a7.3 7.3 0 1 0 14.6 0a7.3 7.3 0 1 0 -14.6 0M527.88 262.2a7.3 7.3 0 1 0 14.6 0a7.3 7.3 0 1 0 -14.6 0M531.66 299.1a7.3 7.3 0 1 0 14.6 0a7.3 7.3 0 1 0 -14.6 0M535.39 337.2a7.3 7.3 0 1 0 14.6 0a7.3 7.3 0 1 0 -14.6 0M539.03 374a7.3 7.3 0 1 0 14.6 0a7.3 7.3 0 1 0 -14.6 0M542.92 417.1a7.3 7.3 0 1 0 14.6 0a7.3 7.3 0 1 0 -14.6 0M546.66 447.3a7.3 7.3 0 1 0 14.6 0a7.3 7.3 0 1 0 -14.6 0M550.41 483.5a7.3 7.3 0 1 0 14.6 0a7.3 7.3 0 1 0 -14.6 0M554.3 511.8a7.3 7.3 0 1 0 14.6 0a7.3 7.3 0 1 0 -14.6 0M558 548.9a7.3 7.3 0 1 0 14.6 0a7.3 7.3 0 1 0 -14.6 0M561.7 583.7a7.3 7.3 0 1 0 14.6 0a7.3 7.3 0 1 0 -14.6 0M565.76 604.4a7.3 7.3 0 1 0 14.6 0a7.3 7.3 0 1 0 -14.6 0M569.51 625.9a7.3 7.3 0 1 0 14.6 0a7.3 7.3 0 1 0 -14.6 0M573.17 643.9a7.3 7.3 0 1 0 14.6 0a7.3 7.3 0 1 0 -14.6 0M577.13 664.8a7.3 7.3 0 1 0 14.6 0a7.3 7.3 0 1 0 -14.6 0M581.04 681.5a7.3 7.3 0 1 0 14.6 0a7.3 7.3 0 1 0 -14.6 0M584.95 697.1a7.3 7.3 0 1 0 14.6 0a7.3 7.3 0 1 0 -14.6 0M588.62 711.9a7.3 7.3 0 1 0 14.6 0a7.3 7.3 0 1 0 -14.6 0M592.44 725.9a7.3 7.3 0 1 0 14.6 0a7.3 7.3 0 1 0 -14.6 0M596.11 737.4a7.3 7.3 0 1 0 14.6 0a7.3 7.3 0 1 0 -14.6 0M599.78 749.5a7.3 7.3 0 1 0 14.6 0a7.3 7.3 0 1 0 -14.6 0M604.01 755.7a7.3 7.3 0 1 0 14.6 0a7.3 7.3 0 1 0 -14.6 0M607.87 760.83a7.3 7.3 0 1 0 14.6 0a7.3 7.3 0 1 0 -14.6 0M611.73 766.03a7.3 7.3 0 1 0 14.6 0a7.3 7.3 0 1 0 -14.6 0M615.59 768.97a7.3 7.3 0 1 0 14.6 0a7.3 7.3 0 1 0 -14.6 0M619.46 772.62a7.3 7.3 0 1 0 14.6 0a7.3 7.3 0 1 0 -14.6 0M623.33 774.79a7.3 7.3 0 1 0 14.6 0a7.3 7.3 0 1 0 -14.6 0M627.21 777.59a7.3 7.3 0 1 0 14.6 0a7.3 7.3 0 1 0 -14.6 0M631.09 778.68a7.3 7.3 0 1 0 14.6 0a7.3 7.3 0 1 0 -14.6 0M634.97 779.91a7.3 7.3 0 1 0 14.6 0a7.3 7.3 0 1 0 -14.6 0M638.86 780.16a7.3 7.3 0 1 0 14.6 0a7.3 7.3 0 1 0 -14.6 0M642.76 780.96a7.3 7.3 0 1 0 14.6 0a7.3 7.3 0 1 0 -14.6 0M646.66 781.56a7.3 7.3 0 1 0 14.6 0a7.3 7.3 0 1 0 -14.6 0M650.56 781.88a7.3 7.3 0 1 0 14.6 0a7.3 7.3 0 1 0 -14.6 0M654.47 781.99a7.3 7.3 0 1 0 14.6 0a7.3 7.3 0 1 0 -14.6 0M658.38 782.25a7.3 7.3 0 1 0 14.6 0a7.3 7.3 0 1 0 -14.6 0M662.3 782.36a7.3 7.3 0 1 0 14.6 0a7.3 7.3 0 1 0 -14.6 0M666.22 782.34a7.3 7.3 0 1 0 14.6 0a7.3 7.3 0 1 0 -14.6 0M670.15 782.3a7.3 7.3 0 1 0 14.6 0a7.3 7.3 0 1 0 -14.6 0M674.08 782.46a7.3 7.3 0 1 0 14.6 0a7.3 7.3 0 1 0 -14.6 0M678.01 782.48a7.3 7.3 0 1 0 14.6 0a7.3 7.3 0 1 0 -14.6 0M681.95 782.5a7.3 7.3 0 1 0 14.6 0a7.3 7.3 0 1 0 -14.6 0M685.89 782.5a7.3 7.3 0 1 0 14.6 0a7.3 7.3 0 1 0 -14.6 0M689.84 782.49a7.3 7.3 0 1 0 14.6 0a7.3 7.3 0 1 0 -14.6 0M693.8 782.49a7.3 7.3 0 1 0 14.6 0a7.3 7.3 0 1 0 -14.6 0M697.75 782.5a7.3 7.3 0 1 0 14.6 0a7.3 7.3 0 1 0 -14.6 0M701.72 782.5a7.3 7.3 0 1 0 14.6 0a7.3 7.3 0 1 0 -14.6 0M705.68 782.5a7.3 7.3 0 1 0 14.6 0a7.3 7.3 0 1 0 -14.6 0M709.66 782.5a7.3 7.3 0 1 0 14.6 0a7.3 7.3 0 1 0 -14.6 0M713.63 782.5a7.3 7.3 0 1 0 14.6 0a7.3 7.3 0 1 0 -14.6 0M717.61 782.5a7.3 7.3 0 1 0 14.6 0a7.3 7.3 0 1 0 -14.6 0M721.6 782.5a7.3 7.3 0 1 0 14.6 0a7.3 7.3 0 1 0 -14.6 0M725.59 782.5a7.3 7.3 0 1 0 14.6 0a7.3 7.3 0 1 0 -14.6 0M729.58 782.5a7.3 7.3 0 1 0 14.6 0a7.3 7.3 0 1 0 -14.6 0M733.58 782.5a7.3 7.3 0 1 0 14.6 0a7.3 7.3 0 1 0 -14.6 0M737.58 782.5a7.3 7.3 0 1 0 14.6 0a7.3 7.3 0 1 0 -14.6 0M741.59 782.5a7.3 7.3 0 1 0 14.6 0a7.3 7.3 0 1 0 -14.6 0M745.61 782.5a7.3 7.3 0 1 0 14.6 0a7.3 7.3 0 1 0 -14.6 0M749.62 782.5a7.3 7.3 0 1 0 14.6 0a7.3 7.3 0 1 0 -14.6 0M753.64 782.5a7.3 7.3 0 1 0 14.6 0a7.3 7.3 0 1 0 -14.6 0M757.67 782.5a7.3 7.3 0 1 0 14.6 0a7.3 7.3 0 1 0 -14.6 0M761.7 782.5a7.3 7.3 0 1 0 14.6 0a7.3 7.3 0 1 0 -14.6 0M765.74 782.5a7.3 7.3 0 1 0 14.6 0a7.3 7.3 0 1 0 -14.6 0M769.78 782.5a7.3 7.3 0 1 0 14.6 0a7.3 7.3 0 1 0 -14.6 0M773.83 782.5a7.3 7.3 0 1 0 14.6 0a7.3 7.3 0 1 0 -14.6 0M777.88 782.5a7.3 7.3 0 1 0 14.6 0a7.3 7.3 0 1 0 -14.6 0M781.93 782.5a7.3 7.3 0 1 0 14.6 0a7.3 7.3 0 1 0 -14.6 0M785.99 782.5a7.3 7.3 0 1 0 14.6 0a7.3 7.3 0 1 0 -14.6 0M790.05 782.5a7.3 7.3 0 1 0 14.6 0a7.3 7.3 0 1 0 -14.6 0M794.12 782.5a7.3 7.3 0 1 0 14.6 0a7.3 7.3 0 1 0 -14.6 0M798.2 782.5a7.3 7.3 0 1 0 14.6 0a7.3 7.3 0 1 0 -14.6 0M802.27 782.5a7.3 7.3 0 1 0 14.6 0a7.3 7.3 0 1 0 -14.6 0M806.36 782.5a7.3 7.3 0 1 0 14.6 0a7.3 7.3 0 1 0 -14.6 0M810.44 782.5a7.3 7.3 0 1 0 14.6 0a7.3 7.3 0 1 0 -14.6 0M814.54 782.5a7.3 7.3 0 1 0 14.6 0a7.3 7.3 0 1 0 -14.6 0M818.63 782.5a7.3 7.3 0 1 0 14.6 0a7.3 7.3 0 1 0 -14.6 0M822.74 782.5a7.3 7.3 0 1 0 14.6 0a7.3 7.3 0 1 0 -14.6 0M826.84 782.5a7.3 7.3 0 1 0 14.6 0a7.3 7.3 0 1 0 -14.6 0M830.95 782.5a7.3 7.3 0 1 0 14.6 0a7.3 7.3 0 1 0 -14.6 0M835.07 782.5a7.3 7.3 0 1 0 14.6 0a7.3 7.3 0 1 0 -14.6 0M839.19 782.5a7.3 7.3 0 1 0 14.6 0a7.3 7.3 0 1 0 -14.6 0M843.31 782.5a7.3 7.3 0 1 0 14.6 0a7.3 7.3 0 1 0 -14.6 0M847.44 782.5a7.3 7.3 0 1 0 14.6 0a7.3 7.3 0 1 0 -14.6 0M851.58 782.5a7.3 7.3 0 1 0 14.6 0a7.3 7.3 0 1 0 -14.6 0M855.72 782.5a7.3 7.3 0 1 0 14.6 0a7.3 7.3 0 1 0 -14.6 0M859.86 782.5a7.3 7.3 0 1 0 14.6 0a7.3 7.3 0 1 0 -14.6 0M864.01 782.5a7.3 7.3 0 1 0 14.6 0a7.3 7.3 0 1 0 -14.6 0M868.17 782.5a7.3 7.3 0 1 0 14.6 0a7.3 7.3 0 1 0 -14.6 0M872.33 782.5a7.3 7.3 0 1 0 14.6 0a7.3 7.3 0 1 0 -14.6 0M876.49 782.5a7.3 7.3 0 1 0 14.6 0a7.3 7.3 0 1 0 -14.6 0"/>
</g>
<rect x="118.05" y="35.7" width="144.35" height="67.6" fill="#fff" stroke="#111" stroke-width="1.4"/>
<text x="128.2" y="85.6" font-family="'Liberation Sans', Arial, Helvetica, sans-serif" font-size="34" fill="#000">k=10<tspan dy="-16" font-size="25" dx="1.6">-4</tspan></text>
<rect x="779.7" y="29.35" width="156.1" height="135.55" fill="#fff" stroke="#262626" stroke-width="1.3"/>
<g fill="none" stroke-width="1.7">
<path stroke="#0072BD" d="M812.25 48.6l10.2 10.2m0 -10.2l-10.2 10.2"/>
<path stroke="#D95319" d="M809.55 97.1h15.4M817.25 89.4v15.4M812.25 92.1l10 10m0 -10l-10 10"/>
<path stroke="#EDB120" d="M809.8 140.6a7.6 7.6 0 1 0 15.2 0a7.6 7.6 0 1 0 -15.2 0"/>
</g>
<g font-family="'Liberation Sans', Arial, Helvetica, sans-serif" font-size="33" letter-spacing="0.5" fill="#000">
<text x="853.5" y="67">2000</text>
<text x="853.5" y="110">2500</text>
<text x="853.5" y="153">3025</text>
</g>
<g transform="translate(37,438.5) rotate(-90)" fill="#262626">
<text transform="translate(0.25,0) scale(1.11,1)" font-family="'Liberation Serif', 'Times New Roman', serif" font-style="italic" font-size="45.3">P</text>
<text transform="translate(29,4.2) scale(1.16,1)" font-family="'DejaVu Sans Light', 'DejaVu Sans', sans-serif" font-weight="200" font-size="48.2">(</text>
<text transform="translate(49.1,0) scale(1.02,1)" font-family="'Liberation Serif', 'Times New Roman', serif" font-style="italic" font-size="41.7">ρ</text>
<text transform="translate(65.1,4.2) scale(1.16,1)" font-family="'DejaVu Sans Light', 'DejaVu Sans', sans-serif" font-weight="200" font-size="48.2">)</text>
</g>
<g font-family="'Liberation Serif', 'Times New Roman', serif" fill="#262626">
<text x="524.5" y="848" text-anchor="middle" font-style="italic" font-size="30.5">ρ</text>
<rect x="485.9" y="856.3" width="76.8" height="1.5" />
<text x="485.8" y="887.3" font-style="italic" font-size="33.5">θ</text>
<text x="503" y="877.4" font-size="23.5" letter-spacing="0.9">0.008</text>
</g>
</svg>
</body></html>
